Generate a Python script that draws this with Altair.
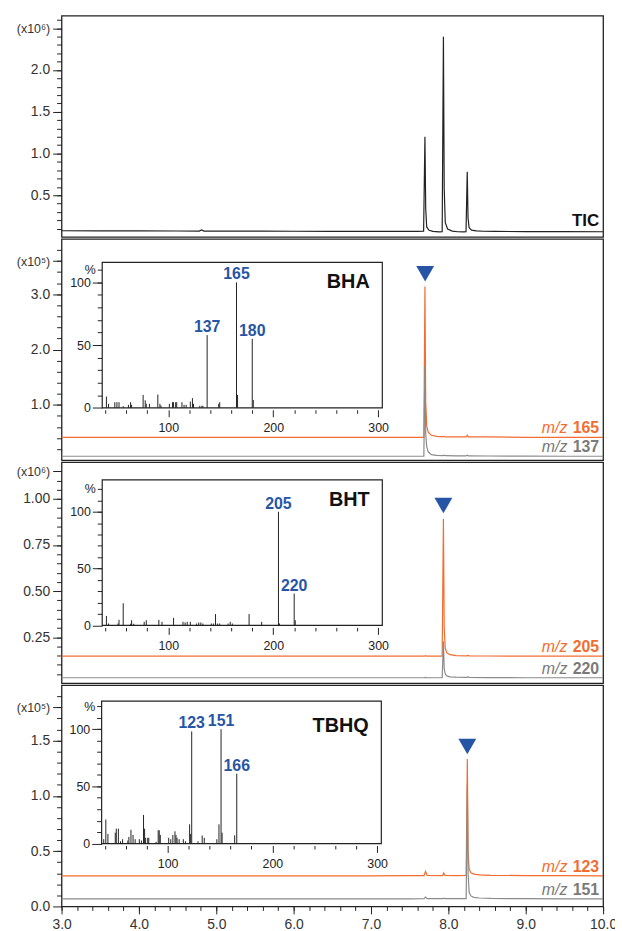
import altair as alt
import pandas as pd

# ---------------- data ----------------
# TIC chromatogram (x10^6)
tic_t = [3.00, 3.50, 4.00, 4.50, 4.78, 4.81, 4.84, 5.20, 5.60, 6.00,
         6.50, 7.00, 7.40, 7.60, 7.680, 7.697, 7.707, 7.720, 7.750, 7.800,
         7.880, 7.920, 7.936, 7.946, 7.960, 7.990, 8.050, 8.120, 8.200, 8.228,
         8.244, 8.254, 8.268, 8.300, 8.360, 8.450, 8.600, 9.000, 9.500, 10.00]
tic_v = [0.074, 0.073, 0.072, 0.071, 0.070, 0.083, 0.070, 0.070, 0.069, 0.068,
         0.067, 0.066, 0.066, 0.066, 0.068, 1.200, 0.340, 0.120, 0.080, 0.066,
         0.060, 0.062, 2.400, 0.580, 0.170, 0.095, 0.070, 0.062, 0.060, 0.062,
         0.780, 0.230, 0.110, 0.082, 0.072, 0.068, 0.066, 0.064, 0.063, 0.062]

# BHA (x10^5): m/z 165 (orange), m/z 137 (gray)
bha_t = [3.00, 4.00, 5.00, 6.00, 7.00, 7.50, 7.683, 7.697, 7.707, 7.720, 7.740, 7.780,
         7.850, 7.930, 7.945, 7.960, 8.100, 8.230, 8.245, 8.260, 8.500, 9.000, 9.500, 10.00]
bha_o_v = [0.41, 0.41, 0.41, 0.41, 0.41, 0.41, 0.41, 3.14, 1.05, 0.62, 0.50, 0.45,
           0.43, 0.42, 0.43, 0.42, 0.42, 0.42, 0.45, 0.42, 0.42, 0.41, 0.41, 0.41]
bha_g_v = [0.07, 0.07, 0.07, 0.07, 0.07, 0.07, 0.07, 1.70, 0.48, 0.24, 0.15, 0.10,
           0.085, 0.08, 0.09, 0.08, 0.078, 0.076, 0.09, 0.076, 0.074, 0.072, 0.07, 0.07]

# BHT (x10^6): m/z 205 (orange), m/z 220 (gray)
bht_t = [3.00, 4.00, 5.00, 6.00, 7.00, 7.50, 7.690, 7.705, 7.720, 7.920, 7.936,
         7.946, 7.960, 7.980, 8.020, 8.100, 8.240, 8.255, 8.270, 8.500, 9.000, 10.00]
bht_o_v = [0.147, 0.147, 0.147, 0.147, 0.147, 0.147, 0.147, 0.150, 0.147, 0.147, 0.892,
           0.300, 0.190, 0.165, 0.155, 0.150, 0.149, 0.151, 0.149, 0.148, 0.147, 0.147]
bht_g_v = [0.030, 0.030, 0.030, 0.030, 0.030, 0.030, 0.030, 0.032, 0.030, 0.030, 0.228,
           0.080, 0.050, 0.040, 0.035, 0.033, 0.032, 0.034, 0.032, 0.031, 0.030, 0.030]

# TBHQ (x10^5): m/z 123 (orange), m/z 151 (gray)
tbhq_t = [3.00, 4.00, 5.00, 6.00, 7.00, 7.50, 7.685, 7.705, 7.725, 7.925, 7.940, 7.955,
          8.100, 8.230, 8.245, 8.255, 8.268, 8.290, 8.330, 8.400, 8.550, 9.000, 9.500, 10.00]
tbhq_o_v = [0.277, 0.277, 0.277, 0.277, 0.277, 0.278, 0.279, 0.317, 0.280, 0.279, 0.302, 0.280,
            0.279, 0.280, 1.334, 0.500, 0.340, 0.305, 0.292, 0.285, 0.281, 0.279, 0.278, 0.277]
tbhq_g_v = [0.069, 0.069, 0.069, 0.069, 0.069, 0.069, 0.070, 0.084, 0.071, 0.070, 0.075, 0.070,
            0.070, 0.070, 1.100, 0.300, 0.130, 0.095, 0.082, 0.076, 0.072, 0.070, 0.069, 0.069]

# peak markers (retention time, marker height)
bha_mark = (7.70, 3.37)
bht_mark = (7.936, 0.964)
tbhq_mark = (8.245, 1.446)

# mass spectra (m/z, relative %)
bha_mz = [41, 43, 49, 51, 53, 57, 62, 64, 65, 76, 78, 79, 82, 90, 92, 93, 101, 104, 105,
          107, 108, 113, 115, 117, 121, 123, 124, 130, 132, 133, 137, 148, 149, 165, 166, 180, 181]
bha_pct = [9, 3.2, 4.5, 4.5, 4.5, 1.3, 2.4, 4.5, 2.4, 10.3, 6, 3.2, 3.2, 10.6, 3.2, 1.8, 3.2, 4.5, 4.5,
           4.5, 4.5, 4.5, 2.4, 2.4, 5, 7.7, 3.2, 1.6, 1.6, 1.6, 58, 3.2, 4.5, 100, 10.3, 55, 6.3]
bha_labels = [137, 165, 180]

bht_mz = [41, 43, 52, 53, 57, 64, 65, 67, 77, 79, 91, 94, 105, 114, 116, 118, 121, 127,
          129, 131, 133, 141, 143, 145, 147, 149, 157, 159, 161, 177, 189, 205, 206, 220, 221]
bht_pct = [8.4, 1.7, 1.7, 4.9, 19.5, 1.5, 4.6, 1.5, 3.2, 4.6, 4.9, 3.2, 6.7, 3.2, 2.6, 3.2, 3.2, 1.7,
           2.6, 2.6, 1.7, 1.7, 1.7, 10, 1.7, 1.7, 1.7, 3.2, 1.7, 10, 3.2, 100, 1.7, 28, 4.6]
bht_labels = [205, 220]

tbhq_mz = [39, 41, 43, 50, 51, 53, 55, 57, 62, 63, 65, 67, 69, 73, 75, 77, 78, 79, 81, 82,
           89, 91, 92, 93, 101, 103, 105, 107, 108, 109, 111, 115, 117, 121, 122, 123, 129,
           133, 135, 147, 149, 151, 152, 164, 166]
tbhq_pct = [3.8, 21, 8.4, 9.5, 13, 13, 2, 3.8, 2.6, 5.8, 12, 7.5, 3.8, 3.8, 2.6, 25, 13, 5, 5, 5,
            1.5, 11.6, 11.6, 7.5, 5, 3.8, 7.5, 10.7, 7.5, 5, 3.8, 3.8, 2, 16.8, 8.4, 98, 2,
            7, 5, 3.8, 16.8, 100, 9.5, 7.2, 61]
tbhq_labels = [123, 151, 166]

# ---------------- style ----------------
FONT = "Liberation Sans"
W, H = 546, 223
INK = "#222222"
LAB = "#333333"
ORANGE = "#f26d2f"
GRAY = "#8a8a8a"
GRAY_TXT = "#7a7a7a"
BLUE = "#2755a6"


def ticks(lo, hi, step):
    n = int(round((hi - lo) / step))
    return [round(lo + i * step, 4) for i in range(n + 1)]


def chrom_panel(traces, y_top, y_major, y_minor, y_fmt, unit_val, unit_txt,
                x_axis=False, marker=None, tags=None, tic=False):
    xs = alt.Scale(domain=[3.0, 10.0], nice=False, zero=False)
    ys = alt.Scale(domain=[0, y_top], nice=False, zero=False)
    anchor = pd.DataFrame({"t": [5.0], "v": [y_top / 2]})
    layers = []
    # minor ticks
    xm = alt.X("t:Q", scale=xs, title=None,
               axis=alt.Axis(values=ticks(3.0, 10.0, 0.2), labels=False, tickSize=4,
                             orient="bottom", domain=False, grid=False, tickColor=INK)
               if x_axis else None)
    ym = alt.Y("v:Q", scale=ys, title=None,
               axis=alt.Axis(values=y_minor, labels=False, tickSize=5, domain=False,
                             grid=False, orient="left", tickColor=INK))
    layers.append(alt.Chart(anchor).mark_point(opacity=0).encode(x=xm, y=ym))
    # major ticks + labels
    cond = f"datum.value > {unit_val - 1e-6}"
    XM = alt.X("t:Q", scale=xs, title=None,
               axis=alt.Axis(values=list(range(3, 11)), format=".1f", tickSize=7.5,
                             orient="bottom", labelFontSize=14, labelPadding=4, labelFlush=False,
                             labelColor=LAB, domain=False, grid=False, tickColor=INK)
               if x_axis else None)
    YM = alt.Y("v:Q", scale=ys, title=None,
               axis=alt.Axis(values=y_major, format=y_fmt,
                             labelExpr=f"{cond} ? '{unit_txt}' : datum.label",
                             labelFontSize={"condition": {"test": cond, "value": 12.5}, "value": 14},
                             tickSize=9, labelPadding=3, labelColor=LAB, domain=False,
                             grid=False, orient="left", tickColor=INK))
    layers.append(alt.Chart(anchor).mark_point(opacity=0).encode(x=XM, y=YM))
    X = alt.X("t:Q", scale=xs, axis=None)
    Y = alt.Y("v:Q", scale=ys, axis=None)
    for t, v, color in traces:
        df = pd.DataFrame({"t": t, "v": v})
        layers.append(alt.Chart(df).mark_line(color=color, strokeWidth=1.2).encode(x=X, y=Y))
    if marker is not None:
        mdf = pd.DataFrame({"t": [marker[0]], "v": [marker[1]]})
        layers.append(alt.Chart(mdf).mark_point(shape="triangle-down", filled=True, size=324,
                                                 color=BLUE, opacity=1).encode(x=X, y=Y))
    if tags is not None:
        for (t, v, color), (num, tcol) in zip(traces, tags):
            tdf = pd.DataFrame({"t": [t[-1]], "v": [v[-1]], "num": [num]})
            layers.append(alt.Chart(tdf).mark_text(
                align="right", baseline="alphabetic", dx=-4, dy=-4, font=FONT, fontSize=16,
                fontWeight="bold", color=tcol).encode(x=X, y=Y, text="num:N"))
            layers.append(alt.Chart(tdf).mark_text(
                align="right", baseline="alphabetic", dx=-36, dy=-4, font=FONT, fontSize=16,
                fontStyle="italic", color=tcol).encode(x=X, y=Y, text=alt.value("m/z")))
    if tic:
        t, v, color = traces[0]
        tdf = pd.DataFrame({"t": [t[-1]], "v": [v[-1]]})
        layers.append(alt.Chart(tdf).mark_text(
            align="right", baseline="alphabetic", dx=-4, dy=-6, font=FONT, fontSize=17,
            fontWeight="bold", color="#111111").encode(x=X, y=Y, text=alt.value("TIC")))
    return alt.layer(*layers).resolve_axis(x="independent", y="independent")


def inset(mz, pct, labels, name, name_pct, x_rng, y_rng, y_top, pct_tick):
    xs = alt.Scale(domain=[37, 304], range=x_rng, nice=False, zero=False)
    ys = alt.Scale(domain=[0, y_top], range=y_rng, nice=False, zero=False)
    anchor = pd.DataFrame({"mz": [150], "pct": [50]})
    x_off = y_rng[0] - H + 2
    y_off = -x_rng[0]
    layers = []
    xm = alt.X("mz:Q", scale=xs, title=None,
               axis=alt.Axis(values=[40, 60, 80, 120, 140, 160, 180, 220, 240, 260, 280],
                             labels=False, tickSize=3.5, offset=x_off, orient="bottom",
                             domain=False, grid=False, tickColor=INK))
    ym = alt.Y("pct:Q", scale=ys, title=None,
               axis=alt.Axis(values=ticks(10, pct_tick, 10), tickSize=5, offset=y_off,
                             orient="left", labelExpr=f"datum.value == {pct_tick} ? '%' : ''",
                             labelFontSize=12.5, labelPadding=2, labelColor=INK,
                             domain=False, grid=False, tickColor=INK))
    layers.append(alt.Chart(anchor).mark_point(opacity=0).encode(x=xm, y=ym))
    XM = alt.X("mz:Q", scale=xs, title=None,
               axis=alt.Axis(values=[100, 200, 300], tickSize=7, offset=x_off, orient="bottom",
                             labelFontSize=12.5, labelPadding=5, labelFlush=False,
                             labelColor=INK, domain=False, grid=False, tickColor=INK))
    YM = alt.Y("pct:Q", scale=ys, title=None,
               axis=alt.Axis(values=[0, 50, 100], tickSize=10, offset=y_off, orient="left",
                             labelFontSize=12.5, labelPadding=2, labelColor=INK,
                             domain=False, grid=False, tickColor=INK))
    layers.append(alt.Chart(anchor).mark_point(opacity=0).encode(x=XM, y=YM))
    frame = pd.DataFrame({"a": [37], "b": [304], "c": [0], "d": [y_top]})
    layers.append(alt.Chart(frame).mark_rect(fill="white", stroke=INK, strokeWidth=1.2).encode(
        x=alt.X("a:Q", scale=xs, axis=None), x2="b:Q",
        y=alt.Y("c:Q", scale=ys, axis=None), y2="d:Q"))
    X = alt.X("mz:Q", scale=xs, axis=None)
    Y = alt.Y("pct:Q", scale=ys, axis=None)
    sdf = pd.DataFrame({"mz": mz, "pct": pct})
    layers.append(alt.Chart(sdf).mark_rule(color=INK, strokeWidth=1).encode(
        x=X, y=Y, y2=alt.datum(0)))
    lookup = dict(zip(mz, pct))
    ldf = pd.DataFrame({"mz": labels, "pct": [lookup[m] for m in labels],
                        "lab": [str(m) for m in labels]})
    layers.append(alt.Chart(ldf).mark_text(
        align="center", baseline="alphabetic", dy=-3, font=FONT, fontSize=16,
        fontWeight="bold", color=BLUE).encode(x=X, y=Y, text="lab:N"))
    ndf = pd.DataFrame({"mz": [292], "pct": [name_pct], "name": [name]})
    layers.append(alt.Chart(ndf).mark_text(
        align="right", baseline="middle", font=FONT, fontSize=20, fontWeight="bold",
        color="#111111").encode(x=X, y=Y, text="name:N"))
    return alt.layer(*layers).resolve_axis(x="independent", y="independent")


p_tic = chrom_panel([(tic_t, tic_v, INK)], 2.65, [0.5, 1.0, 1.5, 2.0, 2.5],
                    ticks(0.1, 2.6, 0.1), ".1f", 2.5, "(x10⁶)", tic=True
                    ).properties(width=W, height=H)

c_bha = chrom_panel([(bha_t, bha_o_v, ORANGE), (bha_t, bha_g_v, GRAY)], 4.0,
                    [1.0, 2.0, 3.0, 3.6], ticks(0.2, 3.8, 0.2), ".1f", 3.6, "(x10⁵)",
                    marker=bha_mark, tags=[("165", ORANGE), ("137", GRAY_TXT)])
i_bha = inset(bha_mz, bha_pct, bha_labels, "BHA", 100, [41, 323.4], [170.3, 23.6], 116, 110)
p_bha = alt.layer(c_bha, i_bha).resolve_scale(x="independent", y="independent").properties(width=W, height=H)

c_bht = chrom_panel([(bht_t, bht_o_v, ORANGE), (bht_t, bht_g_v, GRAY)], 1.2,
                    [0.25, 0.5, 0.75, 1.0, 1.15], ticks(0.05, 1.15, 0.05), ".2f", 1.15, "(x10⁶)",
                    marker=bht_mark, tags=[("205", ORANGE), ("220", GRAY_TXT)])
i_bht = inset(bht_mz, bht_pct, bht_labels, "BHT", 110, [41, 323.4], [164.7, 18], 128, 120)
p_bht = alt.layer(c_bht, i_bht).resolve_scale(x="independent", y="independent").properties(width=W, height=H)

c_tbhq = chrom_panel([(tbhq_t, tbhq_o_v, ORANGE), (tbhq_t, tbhq_g_v, GRAY)], 2.0,
                     [0.0, 0.5, 1.0, 1.5, 1.8], ticks(0.1, 1.9, 0.1), ".1f", 1.8, "(x10⁵)",
                     x_axis=True, marker=tbhq_mark, tags=[("123", ORANGE), ("151", GRAY_TXT)])
i_tbhq = inset(tbhq_mz, tbhq_pct, tbhq_labels, "TBHQ", 103, [40.4, 322.4], [159.6, 16], 124.5, 120)
p_tbhq = alt.layer(c_tbhq, i_tbhq).resolve_scale(x="independent", y="independent").properties(width=W, height=H)

chart = alt.vconcat(p_tic, p_bha, p_bht, p_tbhq, spacing=0).properties(
    padding={"left": 7, "top": 3, "right": -3, "bottom": 0}
).configure(font=FONT).configure_view(stroke=INK, strokeWidth=1.3).configure_axis(
    labelFont=FONT, tickWidth=1)

chart.save("out.html", embed_options={"renderer": "svg", "actions": False})
